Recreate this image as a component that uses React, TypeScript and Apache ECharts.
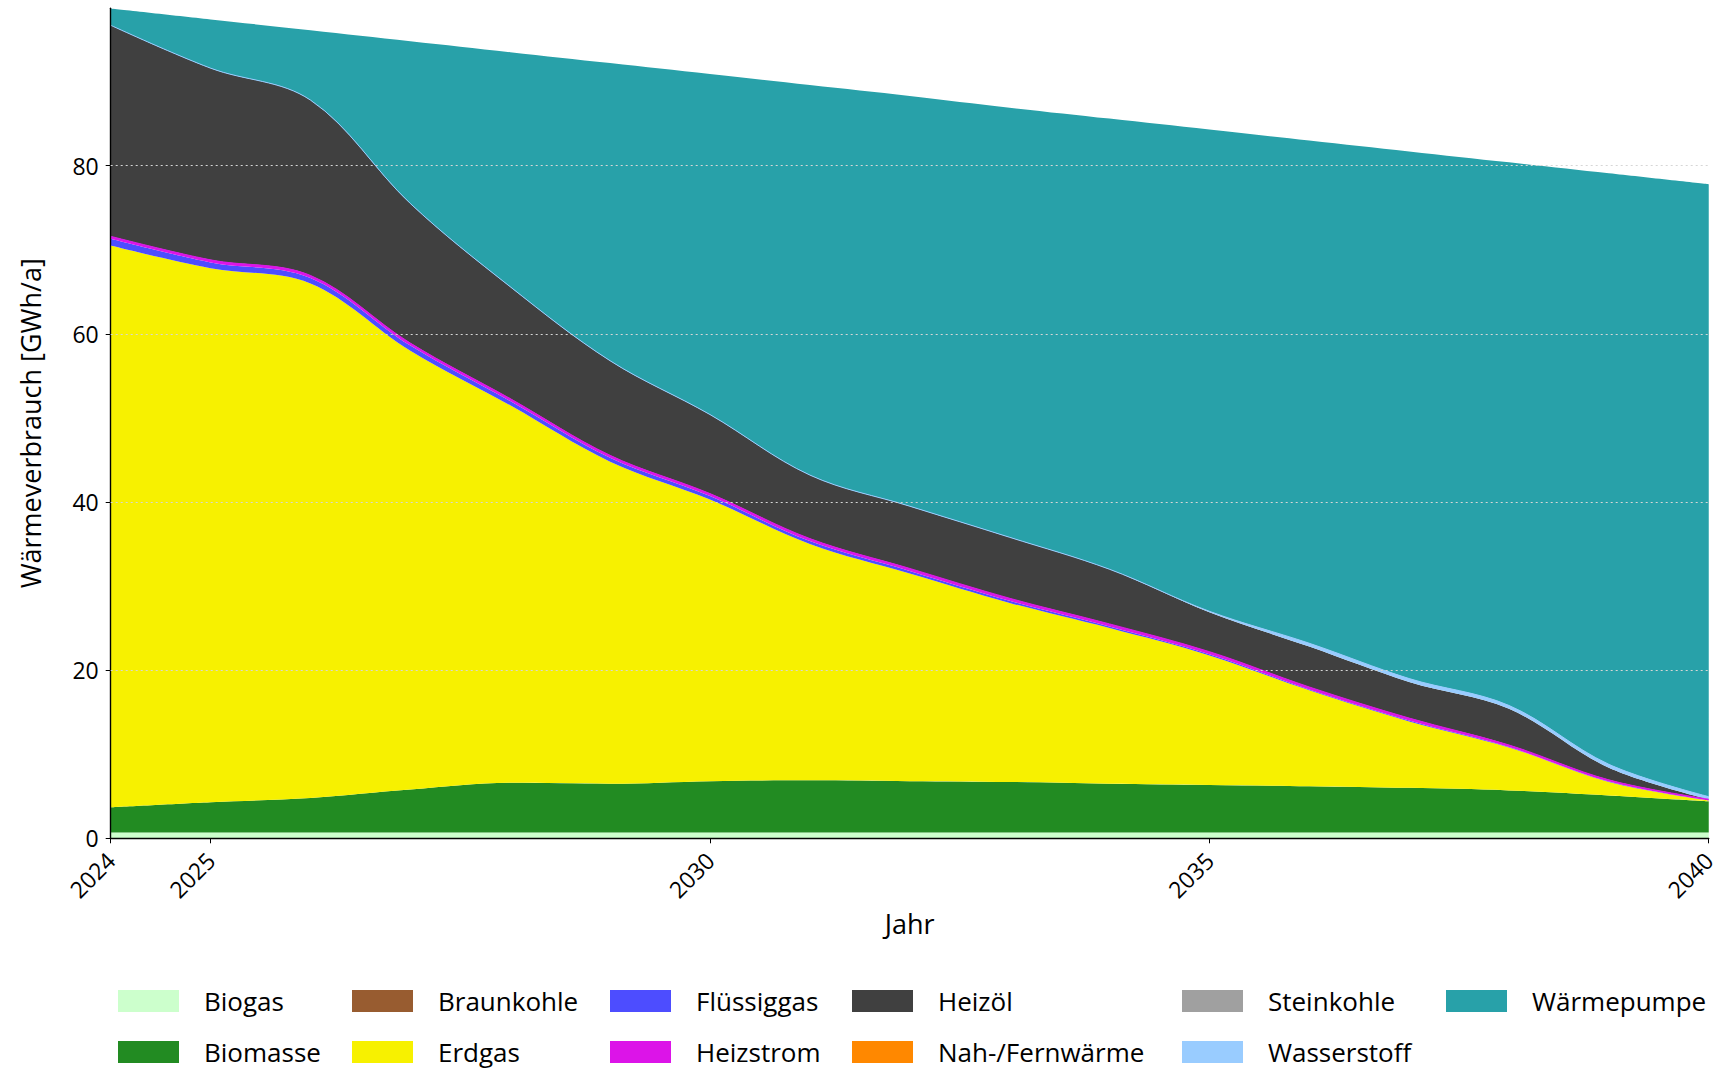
import React, { useEffect, useRef } from "react";
import * as echarts from "echarts";

const years = ["2024", "2025", "2026", "2027", "2028", "2029", "2030", "2031", "2032", "2033", "2034", "2035", "2036", "2037", "2038", "2039", "2040"];
const xTickLabels = ["2024", "2025", "2030", "2035", "2040"];
const yTickValues = [0, 20, 40, 60, 80];
const yGridValues = [20, 40, 60, 80];

const biogas = [0.7, 0.7, 0.7, 0.7, 0.7, 0.7, 0.7, 0.7, 0.7, 0.7, 0.7, 0.7, 0.7, 0.7, 0.7, 0.7, 0.7];
const biomasse = [3.0, 3.6, 4.1, 5.1, 5.9, 5.8, 6.1, 6.2, 6.1, 6.0, 5.8, 5.65, 5.5, 5.3, 5.0, 4.4, 3.7];
const braunkohle = [0, 0, 0, 0, 0, 0, 0, 0, 0, 0, 0, 0, 0, 0, 0, 0, 0];
const erdgas = [66.8, 63.5, 61.2, 52.2, 44.9, 38.3, 33.5, 28.1, 24.7, 21.3, 18.5, 15.4, 11.4, 7.9, 5.1, 1.6, 0.1];
const fluessiggas = [0.8, 0.7, 0.65, 0.6, 0.5, 0.45, 0.4, 0.35, 0.3, 0.25, 0.2, 0.15, 0.1, 0.1, 0.05, 0.05, 0];
const heizstrom = [0.3, 0.3, 0.3, 0.3, 0.3, 0.3, 0.3, 0.3, 0.3, 0.3, 0.3, 0.3, 0.3, 0.3, 0.25, 0.2, 0.15];
const heizoel = [25.1, 22.8, 20.85, 16.6, 13.3, 11.25, 9.4, 7.55, 7.4, 7.25, 6.5, 4.7, 4.8, 4.3, 4.3, 1.45, 0];
const nahFernwaerme = [0, 0, 0, 0, 0, 0, 0, 0, 0, 0, 0, 0, 0, 0, 0, 0, 0];
const steinkohle = [0, 0, 0, 0, 0, 0, 0, 0, 0, 0, 0, 0, 0, 0, 0, 0, 0];
const wasserstoff = [0, 0, 0, 0, 0, 0, 0, 0, 0, 0, 0, 0.1, 0.4, 0.4, 0.4, 0.4, 0.3];
const waermepumpe = [2.0, 5.8, 8.3, 19.3, 27.9, 35.4, 40.5, 46.4, 48.8, 51.1, 53.6, 57.3, 59.8, 62.7, 64.6, 70.3, 72.85];

const seriesDefs = [
  { name: "Biogas", data: biogas, color: "#ccffcc" },
  { name: "Biomasse", data: biomasse, color: "#228b22" },
  { name: "Braunkohle", data: braunkohle, color: "#985c30" },
  { name: "Erdgas", data: erdgas, color: "#f7f100" },
  { name: "Flüssiggas", data: fluessiggas, color: "#4d4dff" },
  { name: "Heizstrom", data: heizstrom, color: "#dc14e8" },
  { name: "Heizöl", data: heizoel, color: "#404040" },
  { name: "Nah-/Fernwärme", data: nahFernwaerme, color: "#ff8800" },
  { name: "Steinkohle", data: steinkohle, color: "#a0a0a0" },
  { name: "Wasserstoff", data: wasserstoff, color: "#99ccff" },
  { name: "Wärmepumpe", data: waermepumpe, color: "#28a1a9" },
];

const legendColumns = [
  ["Biogas", "Biomasse"],
  ["Braunkohle", "Erdgas"],
  ["Flüssiggas", "Heizstrom"],
  ["Heizöl", "Nah-/Fernwärme"],
  ["Steinkohle", "Wasserstoff"],
  ["Wärmepumpe"],
];
const legendLefts = [118, 352, 610, 852, 1182, 1446];
const legendRowTops = [988, 1039];

const FONT = "Open Sans";

export default function App() {
  const ref = useRef<HTMLDivElement>(null);
  useEffect(() => {
    document.body.style.margin = "0";
    if (!ref.current) return;
    const chart = echarts.init(ref.current, null, { renderer: "svg" });
    const yMax = 98.72;
    const showX = (_i: number, v: string) => xTickLabels.indexOf(v) >= 0;
    const legends: any[] = [];
    legendColumns.forEach((col, ci) => {
      col.forEach((name, ri) => {
        legends.push({
          orient: "horizontal",
          left: legendLefts[ci],
          top: legendRowTops[ri],
          padding: 0,
          itemWidth: 61,
          itemHeight: 22,
          icon: "rect",
          selectedMode: false,
          data: [name],
          textStyle: { fontSize: 26, color: "#000", fontFamily: FONT, padding: [0, 0, 0, 20] },
        });
      });
    });
    const gridLine = {
      silent: true,
      z: 10,
      symbol: ["none", "none"],
      label: { show: false },
      emphasis: { disabled: true },
      lineStyle: { color: "#d6d6d6", width: 1, type: [2, 3] },
      data: yGridValues.map((v) => ({ yAxis: v })),
    };
    const option: any = {
      animation: false,
      backgroundColor: "#ffffff",
      textStyle: { fontFamily: FONT },
      grid: { left: 110.7, top: 8.3, width: 1604.8, height: 830, containLabel: false },
      xAxis: {
        type: "category",
        data: years,
        boundaryGap: false,
        z: 4,
        name: "Jahr",
        nameLocation: "middle",
        nameGap: 72,
        nameTextStyle: { fontSize: 27, color: "#000", fontFamily: FONT },
        axisLine: { show: true, onZero: false, lineStyle: { color: "#000", width: 1.4 } },
        axisTick: { show: true, length: 5, lineStyle: { color: "#000" }, interval: showX, alignWithLabel: true },
        axisLabel: {
          interval: showX,
          rotate: 45,
          fontSize: 23,
          color: "#000",
          margin: 18,
          fontFamily: FONT,
        },
        splitLine: { show: false },
      },
      yAxis: {
        type: "value",
        min: 0,
        max: yMax,
        z: 4,
        name: "Wärmeverbrauch [GWh/a]",
        nameLocation: "middle",
        nameGap: 67,
        nameTextStyle: { fontSize: 27, color: "#000", fontFamily: FONT },
        axisLine: { show: true, lineStyle: { color: "#000", width: 1.4 } },
        axisTick: { show: true, length: 5, lineStyle: { color: "#000" }, customValues: yTickValues },
        axisLabel: {
          customValues: yTickValues,
          fontSize: 23,
          color: "#000",
          margin: 12,
          fontFamily: FONT,
        },
        splitLine: { show: false },
      },
      legend: legends,
      series: seriesDefs.map((s, idx) => ({
        name: s.name,
        type: "line",
        stack: "total",
        smooth: 0.35,
        symbol: "none",
        color: s.color,
        itemStyle: { color: s.color },
        lineStyle: { width: s.name === "Wasserstoff" || s.name === "Heizstrom" ? 1 : 0, color: s.color },
        areaStyle: { color: s.color, opacity: 1 },
        data: s.data,
        markLine: idx === seriesDefs.length - 1 ? gridLine : undefined,
      })),
    };
    chart.setOption(option);
    return () => chart.dispose();
  }, []);
  return <div ref={ref} style={{ width: 1719, height: 1070 }} />;
}
